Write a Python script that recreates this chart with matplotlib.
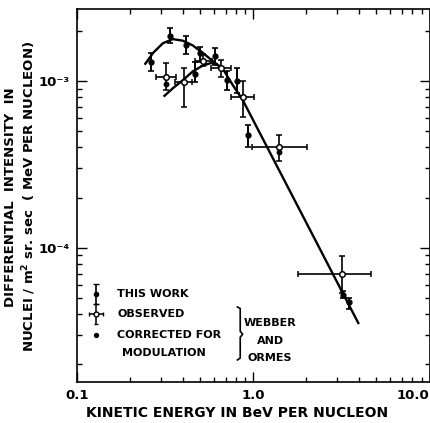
import matplotlib
matplotlib.use("Agg")
import matplotlib.pyplot as plt
from matplotlib.ticker import LogLocator, NullFormatter

plt.rcParams["font.family"] = "DejaVu Sans"
plt.rcParams["font.weight"] = "bold"

# ---- data ----
# this work (filled dots, vertical error bars)
this_x = [0.264, 0.335, 0.417, 0.470, 0.501, 0.610, 0.710, 0.805, 0.929, 3.24, 3.49]
this_y = [1.29e-3, 1.87e-3, 1.64e-3, 1.10e-3, 1.47e-3, 1.40e-3, 1.01e-3, 1.00e-3, 0.475e-3, 0.52e-4, 0.47e-4]
this_ylo = [1.14e-3, 1.68e-3, 1.45e-3, 0.99e-3, 1.30e-3, 1.25e-3, 0.883e-3, 0.85e-3, 0.404e-3, 0.50e-4, 0.43e-4]
this_yhi = [1.47e-3, 2.08e-3, 1.86e-3, 1.30e-3, 1.60e-3, 1.58e-3, 1.14e-3, 1.19e-3, 0.545e-3, 0.55e-4, 0.50e-4]

# Webber and Ormes, observed (open circles, cross error bars)
obs_x = [0.321, 0.404, 0.52, 0.657, 0.870, 1.40, 3.19]
obs_y = [1.06e-3, 0.99e-3, 1.32e-3, 1.19e-3, 0.805e-3, 0.399e-3, 0.697e-4]
obs_xlo = [0.282, 0.359, 0.47, 0.577, 0.748, 0.987, 1.80]
obs_xhi = [0.366, 0.450, 0.58, 0.748, 1.01, 2.02, 4.66]
obs_ylo = [0.883e-3, 0.70e-3, 1.22e-3, 1.06e-3, 0.611e-3, 0.329e-3, 0.536e-4]
obs_yhi = [1.28e-3, 1.20e-3, 1.45e-3, 1.34e-3, 1.0e-3, 0.475e-3, 0.887e-4]

# Webber and Ormes, corrected for modulation (dots)
corr_x = [0.321, 1.40]
corr_y = [0.955e-3, 0.377e-3]

# fitted curves
upper_x = [0.242, 0.270, 0.307, 0.350, 0.399, 0.454, 0.517, 0.577, 0.643]
upper_y = [1.25e-3, 1.47e-3, 1.68e-3, 1.78e-3, 1.74e-3, 1.63e-3, 1.47e-3, 1.34e-3, 1.22e-3]
lower_x = [0.310, 0.350, 0.399, 0.454, 0.517, 0.577, 0.629, 0.686, 0.764, 0.870, 3.97]
lower_y = [0.805e-3, 0.904e-3, 1.01e-3, 1.14e-3, 1.235e-3, 1.28e-3, 1.25e-3, 1.14e-3, 0.946e-3, 0.77e-3, 0.349e-4]

x_ticks = [0.1, 1.0, 10.0]
x_ticklabels = ["0.1", "1.0", "10.0"]
y_ticks = [1e-4, 1e-3]
y_ticklabels = ["10\u207b\u2074", "10\u207b\u00b3"]

fig = plt.figure(figsize=(4.3, 4.23), dpi=100)
ax = fig.add_axes([0.179, 0.097, 0.82, 0.882])
ax.set_xscale("log")
ax.set_yscale("log")

ax.plot(upper_x, upper_y, color="black", lw=1.7, solid_capstyle="butt")
ax.plot(lower_x, lower_y, color="black", lw=1.7, solid_capstyle="butt")

yerr_this = [[y - lo for y, lo in zip(this_y, this_ylo)],
             [hi - y for y, hi in zip(this_y, this_yhi)]]
ax.errorbar(this_x, this_y, yerr=yerr_this, fmt="o", ms=3.5, color="black",
            ecolor="black", elinewidth=1.4, capsize=2.5, capthick=1.2)

xerr_obs = [[x - lo for x, lo in zip(obs_x, obs_xlo)],
            [hi - x for x, hi in zip(obs_x, obs_xhi)]]
yerr_obs = [[y - lo for y, lo in zip(obs_y, obs_ylo)],
            [hi - y for y, hi in zip(obs_y, obs_yhi)]]
ax.errorbar(obs_x, obs_y, xerr=xerr_obs, yerr=yerr_obs, fmt="o", ms=4,
            mfc="white", mec="black", mew=1.1, ecolor="black",
            elinewidth=1.2, capsize=2, capthick=1.1, zorder=3)

ax.plot(corr_x, corr_y, "o", color="black", ms=3.2, zorder=4)

# ---- key drawn inside the axes ----
kx = 0.054
ax.errorbar([kx], [0.236], yerr=[[0.027], [0.027]], fmt="o", ms=3, color="black",
            elinewidth=1.2, capsize=2, transform=ax.transAxes)
ax.errorbar([kx], [0.182], xerr=[[0.02], [0.02]], yerr=[[0.027], [0.027]], fmt="o",
            ms=3.5, mfc="white", mec="black", ecolor="black", elinewidth=1.1,
            capsize=1.5, transform=ax.transAxes)
ax.plot([kx], [0.126], "o", color="black", ms=2.8, transform=ax.transAxes)

tkw = dict(transform=ax.transAxes, fontsize=8, fontweight="bold", va="center")
ax.text(0.114, 0.236, "THIS WORK", ha="left", **tkw)
ax.text(0.114, 0.182, "OBSERVED", ha="left", **tkw)
ax.text(0.114, 0.126, "CORRECTED FOR", ha="left", **tkw)
ax.text(0.247, 0.077, "MODULATION", ha="center", **tkw)
ax.text(0.548, 0.158, "WEBBER", ha="center", **tkw)
ax.text(0.548, 0.110, "AND", ha="center", **tkw)
ax.text(0.548, 0.064, "ORMES", ha="center", **tkw)

brace_x = [0.455, 0.463, 0.463, 0.470, 0.463, 0.463, 0.455]
brace_y = [0.201, 0.197, 0.136, 0.128, 0.120, 0.064, 0.059]
ax.plot(brace_x, brace_y, color="black", lw=1.2, transform=ax.transAxes)

# ---- axes ----
ax.set_xlim(0.1, 10)
ax.set_ylim(1.57e-5, 2.7e-3)
ax.set_xticks(x_ticks)
ax.set_xticklabels(x_ticklabels)
ax.set_yticks(y_ticks)
ax.set_yticklabels(y_ticklabels)
ax.xaxis.set_minor_locator(LogLocator(base=10, subs=range(2, 10)))
ax.yaxis.set_minor_locator(LogLocator(base=10, subs=range(2, 10)))
ax.xaxis.set_minor_formatter(NullFormatter())
ax.yaxis.set_minor_formatter(NullFormatter())
ax.tick_params(which="both", direction="in", top=True, right=True, width=1.0)
ax.tick_params(which="major", length=7, labelsize=9.5, pad=5)
ax.tick_params(which="minor", length=3.5)
for lbl in ax.get_xticklabels() + ax.get_yticklabels():
    lbl.set_fontweight("bold")
ax.get_xticklabels()[-1].set_horizontalalignment("right")
for sp in ax.spines.values():
    sp.set_linewidth(1.2)

ax.set_xlabel("KINETIC ENERGY IN BeV PER NUCLEON", fontsize=10, fontweight="bold")
ax.xaxis.set_label_coords(0.455, -0.065)
fig.text(0.049, 0.535,
         "DIFFERENTIAL  INTENSITY  IN\nNUCLEI / m$^{\\mathbf{2}}$ sr. sec  ( MeV PER NUCLEON)",
         rotation=90, ha="center", va="center", fontsize=9.5, fontweight="bold",
         linespacing=1.25, multialignment="center")

fig.savefig("out.png", dpi=100)
